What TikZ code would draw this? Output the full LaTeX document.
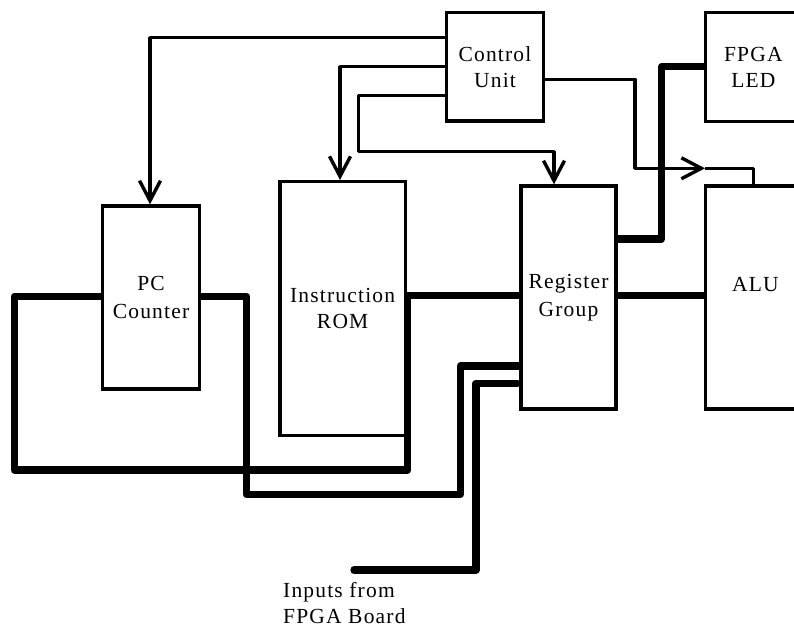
\documentclass[tikz,border=0pt]{standalone}
\usepackage{fontspec}
\setmainfont{Liberation Serif}[LetterSpace=5.5]
\usetikzlibrary{arrows.meta}
\begin{document}
\begin{tikzpicture}[x=1pt,y=-1pt,
  thinline/.style={line width=3.4pt,line join=round},
  thickline/.style={line width=7.3pt,line join=round},
  arr/.style={-{Straight Barb[length=20pt,width=21pt]}},
  blockbox/.style={draw,line width=3.4pt,rectangle,inner sep=0pt,align=center,
    font=\fontsize{21.5}{26}\selectfont},
  widetext/.style={font=\fontsize{21.5}{28}\selectfont},
  lbl/.style={inner sep=0pt,align=center,font=\fontsize{21.5}{26}\selectfont}]
\useasboundingbox (0,0) rectangle (794,627);
\clip (0,0) rectangle (794,627);
% blocks
\node[blockbox,minimum width=97pt,minimum height=108.7pt] (cu) at (495,66.65) {Control\\Unit};
\node[blockbox,minimum width=95.3pt,minimum height=109.4pt] (led) at (753.35,67) {FPGA\\LED};
\node[blockbox,widetext,minimum width=96.6pt,minimum height=183pt] (pc) at (151,297.5) {PC\\Counter};
\node[blockbox,minimum width=125.3pt,minimum height=254pt] (rom) at (342.65,308.7) {Instruction\\ROM};
\node[blockbox,widetext,minimum width=95pt,minimum height=223pt] (reg) at (568.5,297.5) {Register\\Group};
\node[blockbox,minimum width=99.3pt,minimum height=223pt] (alu) at (755.35,297.5) {};
\node[lbl] (alutext) at (755.5,285) {ALU};
\node[lbl,align=left,anchor=north west] (inptext) at (283,582) {Inputs from\\FPGA Board};
% control connectors
\draw[thinline,arr] (cu.west |- 0,37.7) -| (150,0 |- pc.north);
\draw[thinline,arr] (cu.west |- 0,66.7) -| (340,0 |- rom.north);
\draw[thinline,arr] (cu.west |- 0,95.7) -| (358.3,151.7) -| (554,0 |- reg.north);
\coordinate (alutip) at (705,168.3);
\draw[thinline,arr] (cu.east |- 0,79.3) -| (635,168.3) -- (alutip);
\draw[thinline] (alutip) -| (753.3,0 |- alu.north);
% data buses
\draw[thickline] (reg.east |- 0,239) -| (661.7,66.7) -- (led.west |- 0,66.7);
\draw[thickline] (rom.east |- 0,295.7) -- (reg.west |- 0,295.7);
\draw[thickline] (reg.east |- 0,295.7) -- (alu.west |- 0,295.7);
\draw[thickline] (pc.west |- 0,296.3) -| (14.5,470) -| (407.8,295.7);
\draw[thickline] (pc.east |- 0,296.3) -| (246.7,494.5) -| (460.3,366) -- (reg.west |- 0,366);
\coordinate (inp) at (354,570);
\draw[thickline,line cap=round] (inp) -| (476,383.3) -- ([xshift=-2pt]reg.west |- 0,383.3);
\end{tikzpicture}
\end{document}
